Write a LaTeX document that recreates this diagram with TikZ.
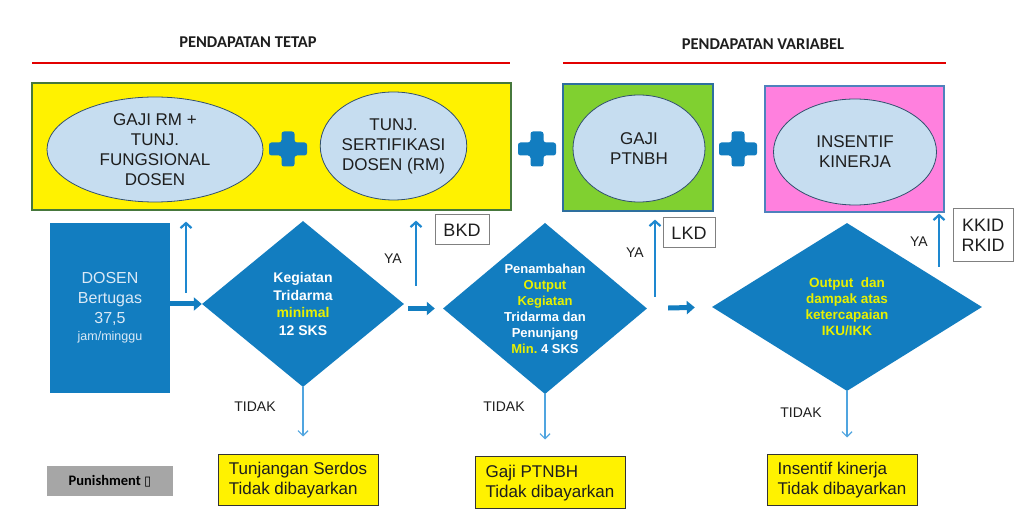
\documentclass[tikz,border=0pt]{standalone}
\usepackage{fontspec}
\setmainfont{Liberation Sans}
\newfontfamily\carlito{Carlito}
\newfontfamily\dejavu{DejaVu Sans}
\usetikzlibrary{shapes.geometric,arrows.meta}
\definecolor{dblue}{RGB}{18,125,192}
\definecolor{ellfill}{RGB}{198,221,240}
\definecolor{ellline}{RGB}{50,80,110}
\definecolor{ygreen}{RGB}{128,208,48}
\definecolor{pinkbox}{RGB}{255,128,222}
\definecolor{ytext}{RGB}{232,240,0}
\definecolor{dtext}{RGB}{218,233,246}
\definecolor{uparr}{RGB}{30,136,208}
\definecolor{dnarr}{RGB}{80,165,224}
\definecolor{redl}{RGB}{226,0,0}
\definecolor{punish}{RGB}{166,166,166}
\definecolor{txt}{RGB}{30,30,30}
\definecolor{ybord}{RGB}{70,120,60}
\definecolor{gbord}{RGB}{46,111,158}
\definecolor{pbord}{RGB}{79,129,189}
\tikzset{
  titletext/.style={font=\carlito\bfseries\fontsize{16.5}{19}\selectfont, text=txt},
  redline/.style={draw=redl, line width=2pt},
  bigbox/.style={draw=#1, line width=1.2pt, inner sep=0pt},
  ell/.style={ellipse, draw=ellline, line width=0.8pt, fill=ellfill, inner sep=0pt, align=center,
     text=txt, font=\fontsize{17}{20}\selectfont},
  diam/.style={diamond, fill=dblue, inner sep=0pt, align=center, text=white},
  fatarrow/.style={draw=dblue, line width=5pt, -{Triangle[length=8pt,width=13pt]}},
  uparrow/.style={draw=uparr, line width=2.2pt, -{Straight Barb[length=5pt,width=11pt]}},
  dnarrow/.style={draw=dnarr, line width=1.2pt, -{Straight Barb[length=5pt,width=10pt]}},
  docbox/.style={draw=gray, line width=1pt, fill=white, inner sep=0pt, align=center, text=txt,
     font=\fontsize{18}{20}\selectfont},
  lbl/.style={text=txt, font=\fontsize{14}{16}\selectfont},
  resbox/.style={draw=black!80, line width=1pt, fill=yellow, inner sep=0pt, align=left, text=txt,
     font=\fontsize{17}{20}\selectfont, minimum width=#1},
  pluscross/.pic={\fill[dblue, rounded corners=2.5pt] (-6.5,-17.5) -- (6.5,-17.5) -- (6.5,-6.5) -- (19,-6.5) -- (19,6.5) -- (6.5,6.5) -- (6.5,17.5) -- (-6.5,17.5) -- (-6.5,6.5) -- (-19,6.5) -- (-19,-6.5) -- (-6.5,-6.5) -- cycle;}
}
\begin{document}
\begin{tikzpicture}[x=1pt,y=-1pt]
\useasboundingbox[fill=white] (0,0) rectangle (1026,526);

% titles and red lines
\node[titletext] (t1) at (248,42) {PENDAPATAN TETAP};
\node[titletext] (t2) at (763,44) {PENDAPATAN VARIABEL};
\coordinate (r1a) at (32,63); \coordinate (r1b) at (510,63);
\coordinate (r2a) at (563,63); \coordinate (r2b) at (946,63);
\draw[redline] (r1a) -- (r1b);
\draw[redline] (r2a) -- (r2b);

% top boxes
\node[bigbox=ybord, fill=yellow, minimum width=479pt, minimum height=127pt] (ybox) at (271.5,146.5) {};
\node[bigbox=gbord, fill=ygreen, minimum width=150pt, minimum height=127pt] (gbox) at (638,147.5) {};
\node[bigbox=pbord, fill=pinkbox, minimum width=179pt, minimum height=126pt] (pbox) at (854.5,149) {};

% ellipses
\node[ell, minimum width=216pt, minimum height=105pt] (e1) at (155,149.5) {GAJI RM +\\TUNJ.\\FUNGSIONAL\\DOSEN};
\node[ell, minimum width=137pt, minimum height=108pt] (e2) at (393.5,146) {TUNJ.\\SERTIFIKASI\\DOSEN (RM)};
\node[ell, minimum width=132pt, minimum height=107pt] (e3) at (639,148.5) {GAJI\\PTNBH};
\node[ell, minimum width=163pt, minimum height=106pt] (e4) at (855,152) {INSENTIF\\KINERJA};

% plus signs
\pic at (288,149) {pluscross};
\pic at (537,149) {pluscross};
\pic at (738,149) {pluscross};

% DOSEN box
\node[fill=dblue, minimum width=120pt, minimum height=170pt, inner sep=0pt, align=center, text=dtext,
  font=\fontsize{16}{20}\selectfont] (dosen) at (110,308)
  {DOSEN\\Bertugas\\37,5\\[-3pt]{\fontsize{12.5}{14}\selectfont jam/minggu}};

% diamonds
\node[diam, minimum width=202pt, minimum height=166pt, font=\bfseries\fontsize{14}{17.5}\selectfont] (d1) at (303,304)
  {Kegiatan\\Tridarma\\\textcolor{ytext}{minimal}\\12 SKS};
\node[diam, minimum width=204pt, minimum height=169pt, font=\bfseries\fontsize{13}{16}\selectfont] (d2) at (545,308.5)
  {Penambahan\\\textcolor{ytext}{Output}\\\textcolor{ytext}{Kegiatan}\\Tridarma dan\\Penunjang\\\textcolor{ytext}{Min.}\ 4 SKS};
\node[diam, minimum width=270pt, minimum height=168pt, text=ytext, font=\bfseries\fontsize{13.5}{16}\selectfont] (d3) at (847,307)
  {Output~~dan\\dampak atas\\ketercapaian\\IKU/IKK};

% fat arrows
\draw[fatarrow] (dosen.east |- d1.west) -- (d1.west);
\draw[fatarrow, shorten <=4pt, shorten >=8pt] (d1.east |- d2.west) -- (d2.west);
\draw[fatarrow, shorten <=21pt, shorten >=17pt] (d2.east) -- (d3.west);

% document boxes
\node[docbox, minimum width=54pt, minimum height=30pt] (bkd) at (462,230) {BKD};
\node[docbox, minimum width=52pt, minimum height=30pt] (lkd) at (689,233) {LKD};
\node[docbox, minimum width=60pt, minimum height=53pt] (kkid) at (983,235.5) {KKID\\RKID};

% up arrows
\coordinate (u1) at (186,293);
\coordinate (u2) at (416,286);
\coordinate (u3) at (655,297);
\coordinate (u4) at (939,267);
\draw[uparrow, shorten >=11pt] (u1) -- (u1 |- ybox.south);
\draw[uparrow, shorten >=10pt] (u2) -- (u2 |- ybox.south);
\draw[uparrow, shorten >=8pt] (u3) -- (u3 |- gbox.south);
\draw[uparrow, shorten >=1pt] (u4) -- (u4 |- pbox.south);

% YA labels
\node[lbl] (ya1) at (393,259) {YA};
\node[lbl] (ya2) at (635,253) {YA};
\node[lbl] (ya3) at (919,242) {YA};

% result boxes
\node[resbox=160pt, minimum height=51pt] (b1) at (298,480.5) {Tunjangan Serdos\\Tidak dibayarkan};
\node[resbox=150pt, minimum height=52pt] (b2) at (550,483) {Gaji PTNBH\\Tidak dibayarkan};
\node[resbox=150pt, minimum height=51pt] (b3) at (842,480.5) {Insentif kinerja\\Tidak dibayarkan};

% TIDAK arrows
\draw[dnarrow, shorten >=18pt] (d1.south) -- (d1.south |- b1.north);
\draw[dnarrow, shorten >=17pt] (d2.south) -- (d2.south |- b2.north);
\draw[dnarrow, shorten >=17pt] (d3.south) -- (d3.south |- b3.north);
\node[lbl] (ti1) at (255,407) {TIDAK};
\node[lbl] (ti2) at (504,407) {TIDAK};
\node[lbl] (ti3) at (801,413) {TIDAK};

% punishment
\node[fill=punish, minimum width=126pt, minimum height=30pt, inner sep=0pt, text=black,
  font=\carlito\bfseries\fontsize{14.5}{16}\selectfont] (pun) at (110,481) {Punishment {\dejavu\fontsize{13}{14}\selectfont ▯}};
\end{tikzpicture}
\end{document}
